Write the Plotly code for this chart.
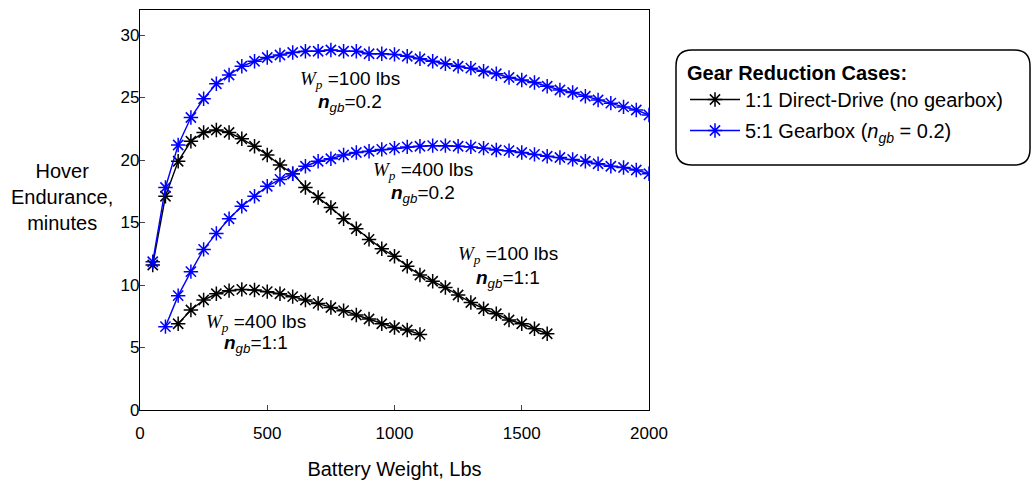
import plotly.graph_objects as go

# Battery weight samples (lbs) and hover endurance (minutes) for each case
batt_wp100_direct = [50, 100, 150, 200, 250, 300, 350, 400, 450, 500, 550, 600, 650, 700, 750, 800,
                     850, 900, 950, 1000, 1050, 1100, 1150, 1200, 1250, 1300, 1350, 1400, 1450,
                     1500, 1550, 1600]
endur_wp100_direct = [11.6, 17.1, 19.9, 21.5, 22.2, 22.4, 22.2, 21.7, 21.1, 20.4, 19.6, 18.9, 17.8,
                      17.0, 16.2, 15.3, 14.5, 13.65, 12.9, 12.3, 11.5, 10.8, 10.3, 9.8, 9.2, 8.6,
                      8.1, 7.7, 7.2, 6.9, 6.5, 6.1]

batt_wp400_direct = [150, 200, 250, 300, 350, 400, 450, 500, 550, 600, 650, 700, 750, 800, 850,
                     900, 950, 1000, 1050, 1100]
endur_wp400_direct = [6.9, 8.0, 8.8, 9.3, 9.55, 9.65, 9.6, 9.47, 9.3, 9.07, 8.8, 8.53, 8.2, 7.95,
                      7.6, 7.28, 6.9, 6.6, 6.4, 6.05]

batt_wp100_gear = [50, 100, 150, 200, 250, 300, 350, 400, 450, 500, 550, 600, 650, 700, 750, 800,
                   850, 900, 950, 1000, 1050, 1100, 1150, 1200, 1250, 1300, 1350, 1400, 1450, 1500,
                   1550, 1600, 1650, 1700, 1750, 1800, 1850, 1900, 1950, 2000]
endur_wp100_gear = [11.86, 17.8, 21.2, 23.4, 24.9, 26.1, 26.8, 27.5, 27.9, 28.2, 28.4, 28.6, 28.7,
                    28.7, 28.8, 28.7, 28.7, 28.5, 28.5, 28.45, 28.3, 28.1, 27.9, 27.7, 27.5, 27.35,
                    27.1, 26.9, 26.6, 26.4, 26.2, 25.9, 25.6, 25.4, 25.1, 24.8, 24.55, 24.25, 24.0,
                    23.6]

batt_wp400_gear = [100, 150, 200, 250, 300, 350, 400, 450, 500, 550, 600, 650, 700, 750, 800, 850,
                   900, 950, 1000, 1050, 1100, 1150, 1200, 1250, 1300, 1350, 1400, 1450, 1500, 1550,
                   1600, 1650, 1700, 1750, 1800, 1850, 1900, 1950, 2000]
endur_wp400_gear = [6.67, 9.15, 11.07, 12.85, 14.13, 15.3, 16.3, 17.1, 17.9, 18.45, 18.9, 19.5,
                    19.9, 20.1, 20.4, 20.6, 20.7, 20.85, 20.95, 21.05, 21.1, 21.15, 21.15, 21.1,
                    21.05, 20.95, 20.8, 20.75, 20.6, 20.45, 20.3, 20.2, 20.05, 19.9, 19.7, 19.5,
                    19.4, 19.2, 18.9]

x_ticks = [0, 500, 1000, 1500, 2000]
y_ticks = [0, 5, 10, 15, 20, 25, 30]

legend_direct = "1:1 Direct-Drive (no gearbox)"
legend_gear = "5:1 Gearbox (<i>n</i><sub><i>gb</i></sub> = 0.2)"

# Curve labels: payload weight, gear ratio text, label centre (lbs, minutes)
label_payload = ["100", "400", "100", "400"]
label_ratio = ["0.2", "0.2", "1:1", "1:1"]
label_x = [826, 1113, 1447, 457]
label_y1 = [26.4, 19.1, 12.4, 7.0]
label_y2 = [24.6, 17.3, 10.5, 5.25]

SANS = "Liberation Sans, Arial, sans-serif"
SERIF = "Liberation Serif, Times New Roman, serif"
BLACK = "#000000"
BLUE = "#0000FF"

W, H = 1031, 485
ML, MR, MT, MB = 140, 382, 10, 75
PW, PH = W - ML - MR, H - MT - MB


def px_to_paper_x(px):
    return (px - ML) / PW


def px_to_paper_y(py):
    return (H - MB - py) / PH


fig = go.Figure()

series = [
    (batt_wp100_direct, endur_wp100_direct, BLACK, legend_direct, "direct", True),
    (batt_wp400_direct, endur_wp400_direct, BLACK, legend_direct, "direct", False),
    (batt_wp100_gear, endur_wp100_gear, BLUE, legend_gear, "gear", True),
    (batt_wp400_gear, endur_wp400_gear, BLUE, legend_gear, "gear", False),
]
for xs, ys, col, name, grp, show in series:
    fig.add_trace(go.Scatter(
        x=xs, y=ys, mode="lines+markers", name=name, legendgroup=grp, showlegend=show,
        line=dict(color=col, width=1.4),
        marker=dict(symbol="asterisk-open", size=12, color=col, line=dict(color=col, width=1.5)),
    ))

# Curve labels
for pay, ratio, lx, ly1, ly2 in zip(label_payload, label_ratio, label_x, label_y1, label_y2):
    fig.add_annotation(
        x=lx, y=ly1, xref="x", yref="y", showarrow=False,
        text=(f"<span style='font-family:{SERIF}'><i>W</i><sub><i>p</i></sub></span>"
              f" ={pay} lbs"),
        font=dict(family=SANS, size=19, color=BLACK),
    )
    fig.add_annotation(
        x=lx, y=ly2, xref="x", yref="y", showarrow=False,
        text=f"<b><i>n</i></b><sub><i>gb</i></sub>={ratio}",
        font=dict(family=SANS, size=19, color=BLACK),
    )

# Y-axis title written horizontally to the left of the axis
fig.add_annotation(
    x=px_to_paper_x(62), y=px_to_paper_y(197), xref="paper", yref="paper",
    showarrow=False, align="center", xanchor="center", yanchor="middle",
    text="Hover<br>Endurance,<br>minutes",
    font=dict(family=SANS, size=20, color=BLACK),
)

# Rounded frame around the legend
bx0, by0, bx1, by1, r = 676, 50, 1030, 165, 16
cx, cy = (bx0 + bx1) / 2, (by0 + by1) / 2
hw, hh = (bx1 - bx0) / 2, (by1 - by0) / 2
path = (f"M {-hw + r},{-hh} L {hw - r},{-hh} Q {hw},{-hh} {hw},{-hh + r} "
        f"L {hw},{hh - r} Q {hw},{hh} {hw - r},{hh} L {-hw + r},{hh} "
        f"Q {-hw},{hh} {-hw},{hh - r} L {-hw},{-hh + r} Q {-hw},{-hh} {-hw + r},{-hh} Z")
fig.add_shape(
    type="path", xref="paper", yref="paper", xsizemode="pixel", ysizemode="pixel",
    xanchor=px_to_paper_x(cx), yanchor=px_to_paper_y(cy), path=path,
    line=dict(color=BLACK, width=1.5), fillcolor="rgba(0,0,0,0)",
)

fig.update_layout(
    width=W, height=H,
    margin=dict(l=ML, r=MR, t=MT, b=MB, pad=0, autoexpand=False),
    paper_bgcolor="white", plot_bgcolor="white",
    font=dict(family=SANS, size=17, color=BLACK),
    legend=dict(
        x=px_to_paper_x(685), y=px_to_paper_y(54), xanchor="left", yanchor="top",
        bgcolor="rgba(0,0,0,0)", borderwidth=0,
        title=dict(text="<b>Gear Reduction Cases:</b>", font=dict(size=20, family=SANS)),
        font=dict(size=20, family=SANS, color=BLACK),
        itemwidth=50, tracegroupgap=2,
    ),
    xaxis=dict(
        range=[0, 2000], tickvals=x_ticks, ticks="inside", ticklen=5, tickwidth=1,
        showline=True, linecolor=BLACK, linewidth=1.3, mirror=True, showgrid=False,
        zeroline=False, tickfont=dict(size=17), ticklabelstandoff=7, automargin=False,
        title=dict(text="Battery Weight, Lbs", font=dict(size=20), standoff=20),
    ),
    yaxis=dict(
        range=[0, 32], tickvals=y_ticks, ticks="inside", ticklen=5, tickwidth=1,
        showline=True, linecolor=BLACK, linewidth=1.3, mirror=True, showgrid=False,
        zeroline=False, tickfont=dict(size=17), ticklabelstandoff=-4, automargin=False,
    ),
)

fig.write_html("out.html")
